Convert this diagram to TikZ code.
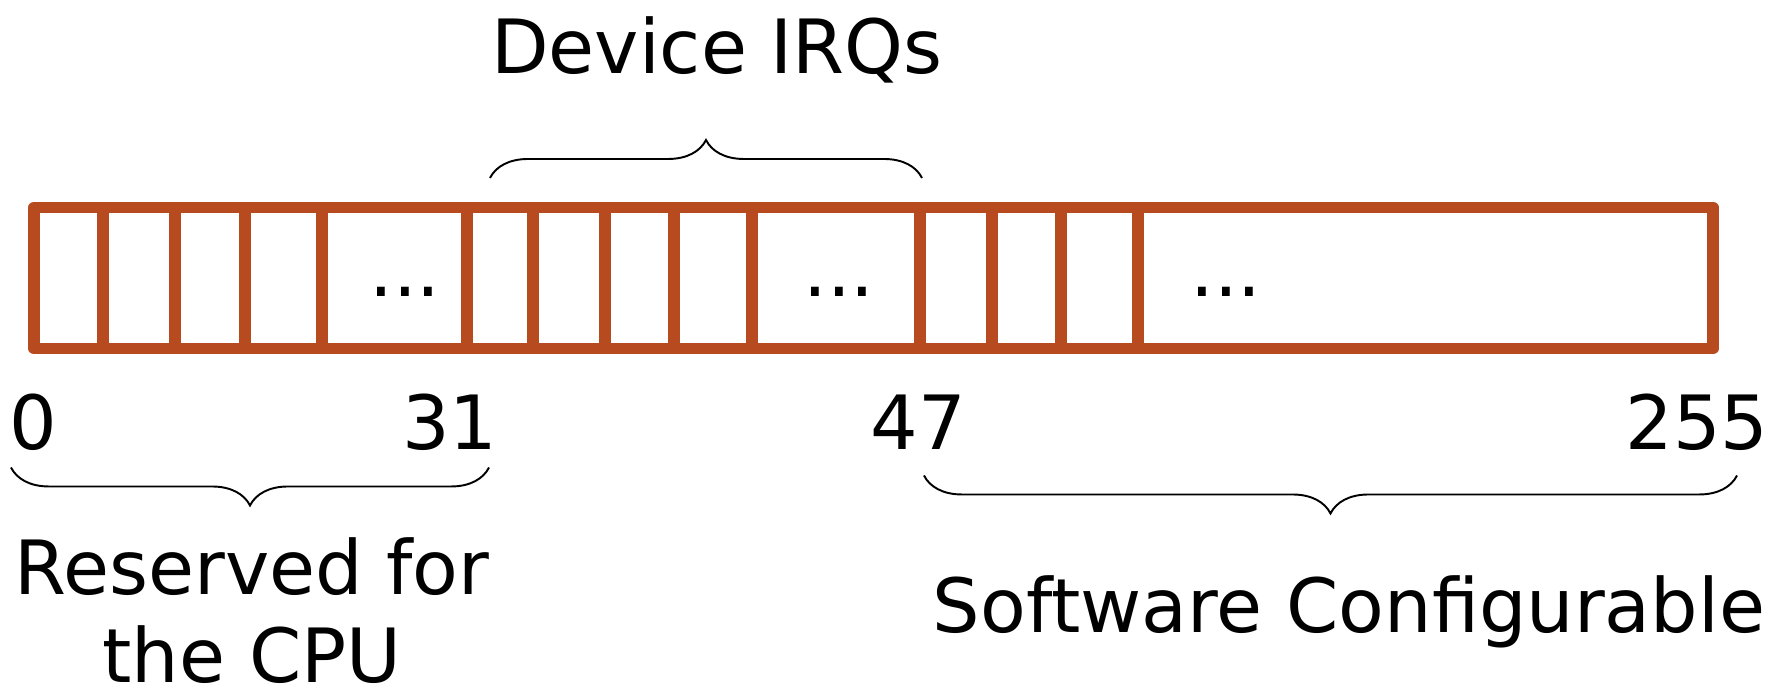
\documentclass[tikz,border=0pt]{standalone}
\usepackage{fontspec}
\setmainfont{DejaVu Sans}
\usetikzlibrary{decorations.pathreplacing}
\definecolor{vecorange}{RGB}{183,74,31}

\begin{document}
\begin{tikzpicture}[
  x=0.02cm, y=0.02cm,
  every node/.style={inner sep=0pt, font=\fontsize{42.6}{50.6}\selectfont},
  slot/.style={draw=vecorange, line width=0.23cm, line join=round},
  irqbrace/.style={decorate, decoration={brace, amplitude=0.76cm}, line width=1.1pt},
  lowbrace/.style={irqbrace, decoration={mirror}},
]
  \useasboundingbox (0,0) rectangle (1779,688);

  % Vector table
  \draw[slot] (34,339.5) rectangle (1713,480.5);
  \foreach \x in {103,175,245,322,467,533,605,674,752,920,992,1061,1138}
    \draw[slot] (\x,339.5) -- (\x,480.5);

  % Gaps
  \node[anchor=base] (gap1) at (405,391) {...};
  \node[anchor=base] (gap2) at (839,391) {...};
  \node[anchor=base] (gap3) at (1226,391) {...};

  % Vector numbers
  \node[anchor=base] (n0) at (33.5,238) {0};
  \node[anchor=base] (n31) at (450,238) {31};
  \node[anchor=base] (n47) at (918.5,238) {47};
  \node[anchor=base] (n255) at (1697,238) {255};

  % Braces
  \coordinate (dev-l) at (490,510);
  \coordinate (dev-r) at (922,510);
  \coordinate (cpu-l) at (11,220.5);
  \coordinate (cpu-r) at (489,220.5);
  \coordinate (soft-l) at (924,212.5);
  \coordinate (soft-r) at (1737,212.5);
  \draw[irqbrace] (dev-l) -- (dev-r);
  \draw[lowbrace] (cpu-l) -- (cpu-r);
  \draw[lowbrace] (soft-l) -- (soft-r);

  % Labels
  \node[anchor=base] (dev) at (717,614) {Device IRQs};
  \node[anchor=base, align=center] (cpu) at (252,5) {Reserved for\\the CPU};
  \node[anchor=base] (soft) at (1349,55) {Software Configurable};
\end{tikzpicture}
\end{document}
